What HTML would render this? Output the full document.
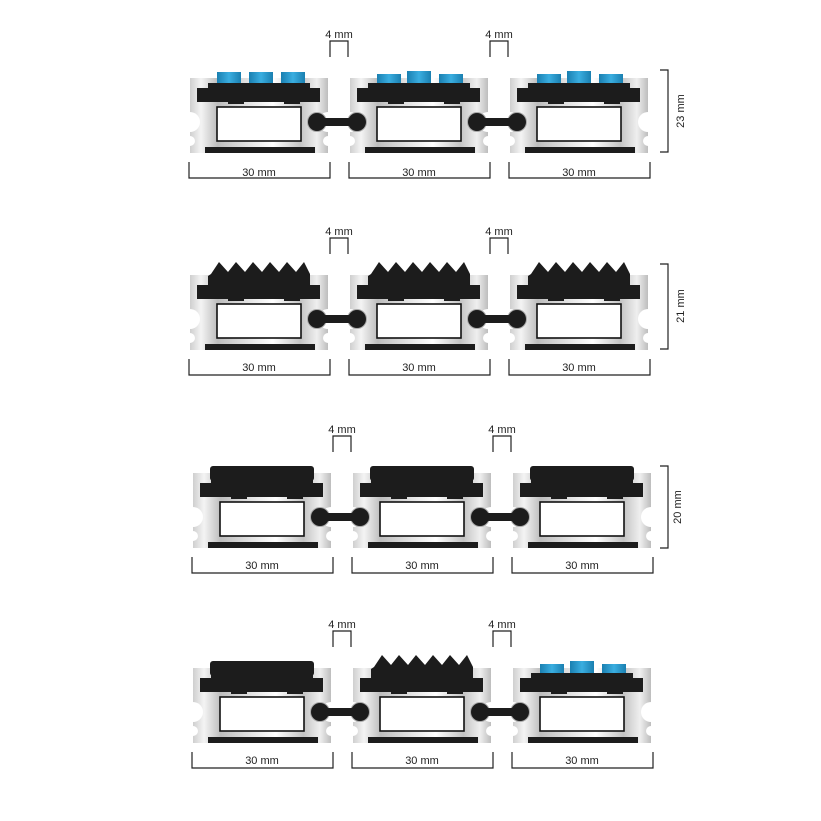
<!DOCTYPE html>
<html><head><meta charset="utf-8"><style>
html,body{margin:0;padding:0;background:#fff;}
svg{display:block}
text{font-family:"Liberation Sans",sans-serif;fill:#222;}
</style></head><body>
<svg width="821" height="821" viewBox="0 0 821 821" xmlns="http://www.w3.org/2000/svg">
<defs>
<linearGradient id="al" x1="0" y1="0" x2="1" y2="0">
<stop offset="0" stop-color="#cfcfcf"/><stop offset="0.08" stop-color="#f4f4f4"/><stop offset="0.2" stop-color="#bdbdbd"/>
<stop offset="0.45" stop-color="#e8e8e8"/><stop offset="0.6" stop-color="#ffffff"/><stop offset="0.8" stop-color="#c4c4c4"/>
<stop offset="0.92" stop-color="#efefef"/><stop offset="1" stop-color="#bdbdbd"/>
</linearGradient>
<linearGradient id="bl" x1="0" y1="0" x2="1" y2="0">
<stop offset="0" stop-color="#1a7fb0"/><stop offset="0.5" stop-color="#3aaee0"/><stop offset="1" stop-color="#1a7fb0"/>
</linearGradient>
<g id="base">
<rect x="2" y="0" width="138" height="75" fill="url(#al)"/>
<circle cx="2" cy="44" r="10" fill="#fff"/>
<circle cx="2" cy="63" r="5" fill="#fff"/>
<circle cx="140" cy="44" r="10" fill="#fff"/>
<circle cx="140" cy="63" r="5" fill="#fff"/>
<rect x="9" y="10" width="123" height="14" fill="#1c1c1c"/>
<rect x="20" y="5" width="102" height="6" fill="#1c1c1c"/>
<rect x="40" y="23" width="16" height="3" fill="#1c1c1c"/>
<rect x="96" y="23" width="16" height="3" fill="#1c1c1c"/>
<rect x="29" y="29" width="84" height="34" fill="#fff" stroke="#111" stroke-width="1.6"/>
<rect x="17" y="69" width="110" height="6" fill="#1c1c1c"/>
</g>
<g id="blue">
<rect x="29" y="-6" width="24" height="11" fill="url(#bl)"/>
<rect x="61" y="-6" width="24" height="11" fill="url(#bl)"/>
<rect x="93" y="-6" width="24" height="11" fill="url(#bl)"/>
</g>
<g id="blue2">
<rect x="29" y="-4" width="24" height="9" fill="url(#bl)"/>
<rect x="59" y="-7" width="24" height="12" fill="url(#bl)"/>
<rect x="91" y="-4" width="24" height="9" fill="url(#bl)"/>
</g>
<g id="teeth">
<polygon fill="#1c1c1c" points="20,7 20,1 23,-1 31,-13 40,-3 48,-13 57,-3 65,-13 74,-3 82,-13 91,-3 99,-13 108,-3 116,-13 122,-1 122,7"/>
</g>
<g id="rib">
<rect x="19" y="-7" width="104" height="15" rx="3" fill="#1c1c1c"/>
</g>
<g id="conn">
<circle cx="129" cy="44" r="9.5" fill="#1c1c1c" stroke="#aaa" stroke-width="1"/>
<circle cx="169" cy="44" r="9.5" fill="#1c1c1c" stroke="#aaa" stroke-width="1"/>
<rect x="129" y="40" width="40" height="8" fill="#1c1c1c"/>
</g>
<g id="dims" fill="none" stroke="#222" stroke-width="1.2">
<path d="M1,84 V100 H142 V84"/>
<path d="M161,84 V100 H302 V84"/>
<path d="M321,84 V100 H462 V84"/>
<path d="M142,-21 V-37 H160 V-21"/>
<path d="M302,-21 V-37 H320 V-21"/>
</g>
</defs>

<!-- Row 1 -->
<g transform="translate(188,78)">
<use href="#base"/><use href="#blue"/>
<use href="#base" x="160"/><use href="#blue2" x="160"/>
<use href="#base" x="320"/><use href="#blue2" x="320"/>
<use href="#conn"/><use href="#conn" x="160"/>
<use href="#dims"/>
<path d="M472,-8 H480 V74 H472" fill="none" stroke="#222" stroke-width="1.2"/>
</g>
<g font-size="11" text-anchor="middle">
<text x="259" y="176">30 mm</text><text x="419" y="176">30 mm</text><text x="579" y="176">30 mm</text>
<text x="339" y="38">4 mm</text><text x="499" y="38">4 mm</text>
<text transform="translate(684,111) rotate(-90)">23 mm</text>
</g>

<!-- Row 2 -->
<g transform="translate(188,275)">
<use href="#base"/><use href="#teeth"/>
<use href="#base" x="160"/><use href="#teeth" x="160"/>
<use href="#base" x="320"/><use href="#teeth" x="320"/>
<use href="#conn"/><use href="#conn" x="160"/>
<use href="#dims"/>
<path d="M472,-11 H480 V74 H472" fill="none" stroke="#222" stroke-width="1.2"/>
</g>
<g font-size="11" text-anchor="middle">
<text x="259" y="371">30 mm</text><text x="419" y="371">30 mm</text><text x="579" y="371">30 mm</text>
<text x="339" y="235">4 mm</text><text x="499" y="235">4 mm</text>
<text transform="translate(684,306) rotate(-90)">21 mm</text>
</g>

<!-- Row 3 -->
<g transform="translate(191,473)">
<use href="#base"/><use href="#rib"/>
<use href="#base" x="160"/><use href="#rib" x="160"/>
<use href="#base" x="320"/><use href="#rib" x="320"/>
<use href="#conn"/><use href="#conn" x="160"/>
<use href="#dims"/>
<path d="M469,-7 H477 V75 H469" fill="none" stroke="#222" stroke-width="1.2"/>
</g>
<g font-size="11" text-anchor="middle">
<text x="262" y="569">30 mm</text><text x="422" y="569">30 mm</text><text x="582" y="569">30 mm</text>
<text x="342" y="433">4 mm</text><text x="502" y="433">4 mm</text>
<text transform="translate(681,507) rotate(-90)">20 mm</text>
</g>

<!-- Row 4 -->
<g transform="translate(191,668)">
<use href="#base"/><use href="#rib"/>
<use href="#base" x="160"/><use href="#teeth" x="160"/>
<use href="#base" x="320"/><use href="#blue2" x="320"/>
<use href="#conn"/><use href="#conn" x="160"/>
<use href="#dims"/>
</g>
<g font-size="11" text-anchor="middle">
<text x="262" y="764">30 mm</text><text x="422" y="764">30 mm</text><text x="582" y="764">30 mm</text>
<text x="342" y="628">4 mm</text><text x="502" y="628">4 mm</text>
</g>
</svg>
</body></html>
